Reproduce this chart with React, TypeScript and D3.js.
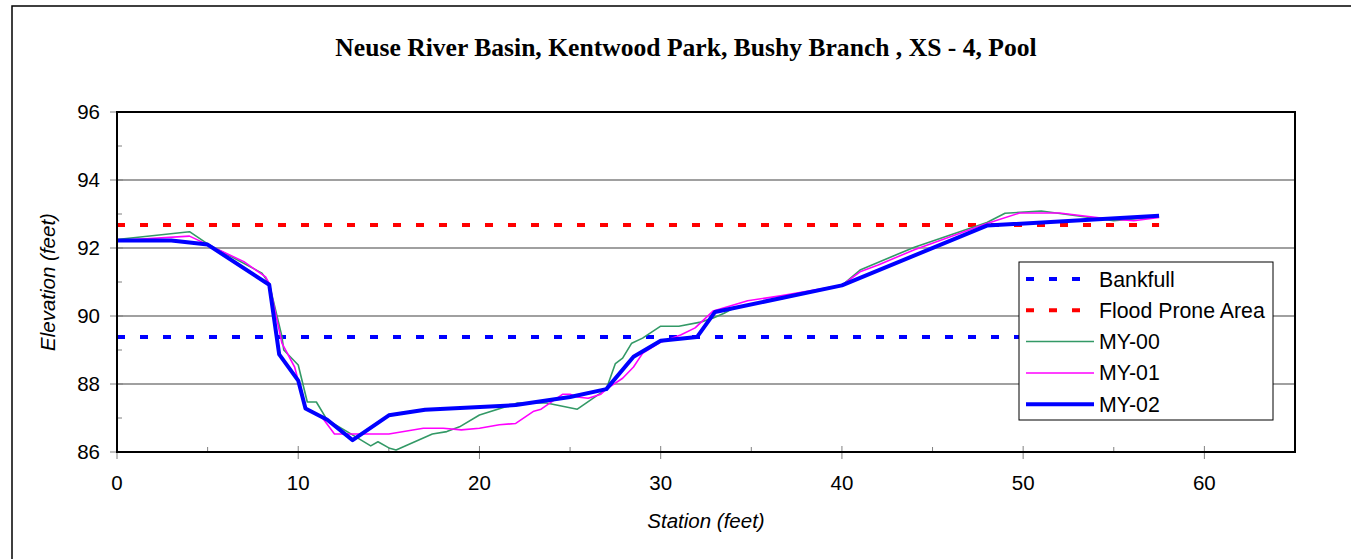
import React from "react";
import * as d3 from "d3";

const title = "Neuse River Basin, Kentwood Park, Bushy Branch , XS - 4, Pool";
const xTicks = [0, 10, 20, 30, 40, 50, 60];
const yTicks = [86, 88, 90, 92, 94, 96];

const bankfullElev = 89.38;
const floodProneElev = 92.68;
const refLineStations = [0, 57.5];

const my00Station = [0, 4, 5, 8, 8.4, 9.1, 9.2, 10, 10.5, 11, 11.6, 12.7, 14, 14.4, 15, 15.4, 17.4, 18.2, 18.9, 20, 22.1, 23.7, 25.4, 27, 27.5, 27.9, 28.4, 29, 30, 31, 32.2, 32.9, 33.5, 34, 40, 41, 43, 44, 48, 49, 51, 55, 57.5];
const my00Elev = [92.25, 92.48, 92.12, 91.26, 90.95, 89.4, 89.0, 88.56, 87.47, 87.47, 86.94, 86.6, 86.18, 86.3, 86.12, 86.06, 86.53, 86.6, 86.74, 87.09, 87.44, 87.44, 87.26, 87.85, 88.6, 88.76, 89.2, 89.35, 89.7, 89.7, 89.82, 89.94, 90.08, 90.23, 90.9, 91.35, 91.8, 92.02, 92.75, 93.02, 93.09, 92.8, 92.92];

const my01Station = [0, 4, 5, 7, 8.2, 8.4, 9.1, 9.8, 10.1, 10.4, 11.3, 12, 15, 16.9, 18, 19, 20, 21.1, 22, 23, 23.4, 24.6, 25, 25.4, 26, 26.7, 27, 27.9, 28.5, 29, 30, 31.1, 31.9, 32.9, 34.8, 36.7, 40, 41, 42, 44, 48, 49.8, 52, 54.3, 56.1, 57.5];
const my01Elev = [92.22, 92.35, 92.1, 91.6, 91.15, 90.95, 89.2, 88.5, 87.9, 87.3, 87.03, 86.53, 86.53, 86.7, 86.7, 86.65, 86.7, 86.8, 86.84, 87.2, 87.26, 87.7, 87.7, 87.62, 87.58, 87.7, 87.85, 88.17, 88.5, 88.9, 89.23, 89.44, 89.65, 90.15, 90.45, 90.6, 90.9, 91.3, 91.5, 91.95, 92.72, 93.03, 93.03, 92.88, 92.8, 92.9];

const my02Station = [0, 3, 5, 8.4, 8.95, 10, 10.4, 11.6, 13, 15, 17, 22, 25, 27, 28.5, 30, 32, 33, 40, 48, 57.5];
const my02Elev = [92.22, 92.22, 92.1, 90.92, 88.87, 88.1, 87.28, 86.95, 86.35, 87.08, 87.24, 87.38, 87.62, 87.85, 88.8, 89.27, 89.38, 90.12, 90.9, 92.66, 92.95];

const legendLabels = ["Bankfull", "Flood Prone Area", "MY-00", "MY-01", "MY-02"];

const W = 1351;
const H = 559;
const left = 117, right = 1295, top = 112, bottom = 452;

export default function App() {
  const x = d3.scaleLinear().domain([0, 65]).range([left, right]);
  const y = d3.scaleLinear().domain([86, 96]).range([bottom, top]);
  const line = d3
    .line<[number, number]>()
    .x((d) => x(d[0]))
    .y((d) => y(d[1]));
  const zip = (s: number[], e: number[]) => s.map((v, i) => [v, e[i]] as [number, number]);

  const font = "'Liberation Sans', Arial, sans-serif";
  const minorX = d3.range(5, 65, 10);
  const minorY = d3.range(87, 96, 2);

  const legendStyles = [
    { stroke: "#0000FF", width: 4, dash: "8 15" },
    { stroke: "#FF0000", width: 4, dash: "8 15" },
    { stroke: "#339966", width: 1.5, dash: undefined },
    { stroke: "#FF00FF", width: 1.5, dash: undefined },
    { stroke: "#0000FF", width: 4, dash: undefined },
  ];

  return (
    <svg width={W} height={H} style={{ position: "absolute", left: 0, top: 0, background: "#fff" }}>
      <rect x={12} y={6} width={W + 20} height={H + 20} fill="#fff" stroke="#000" strokeWidth={1.5} />
      <text x={686} y={56} textAnchor="middle" fontFamily="'Liberation Serif', 'Times New Roman', serif" fontWeight="bold" fontSize={25.6}>
        {title}
      </text>
      {/* gridlines */}
      {yTicks.slice(1, -1).map((t) => (
        <line key={"g" + t} x1={left} x2={right} y1={y(t)} y2={y(t)} stroke="#808080" strokeWidth={1.5} />
      ))}
      {/* minor ticks */}
      {minorY.map((t) => (
        <line key={"my" + t} x1={left} x2={left + 5} y1={y(t)} y2={y(t)} stroke="#808080" strokeWidth={1} />
      ))}
      {minorX.map((t) => (
        <line key={"mx" + t} x1={x(t)} x2={x(t)} y1={bottom} y2={bottom - 5} stroke="#808080" strokeWidth={1} />
      ))}
      {/* major ticks */}
      {yTicks.map((t) => (
        <line key={"ty" + t} x1={left - 7} x2={left + 6} y1={y(t)} y2={y(t)} stroke="#808080" strokeWidth={1} />
      ))}
      {xTicks.map((t) => (
        <line key={"tx" + t} x1={x(t)} x2={x(t)} y1={bottom - 6} y2={bottom + 7} stroke="#808080" strokeWidth={1} />
      ))}
      {/* reference lines */}
      <path d={line(zip(refLineStations, refLineStations.map(() => bankfullElev))) || ""} fill="none" stroke="#0000FF" strokeWidth={4} strokeDasharray="8 15" />
      <path d={line(zip(refLineStations, refLineStations.map(() => floodProneElev))) || ""} fill="none" stroke="#FF0000" strokeWidth={4} strokeDasharray="8 15" />
      {/* series */}
      <path d={line(zip(my00Station, my00Elev)) || ""} fill="none" stroke="#339966" strokeWidth={1.6} strokeLinejoin="round" />
      <path d={line(zip(my01Station, my01Elev)) || ""} fill="none" stroke="#FF00FF" strokeWidth={1.6} strokeLinejoin="round" />
      <path d={line(zip(my02Station, my02Elev)) || ""} fill="none" stroke="#0000FF" strokeWidth={4} strokeLinejoin="round" />
      {/* plot frame */}
      <rect x={left} y={top} width={right - left} height={bottom - top} fill="none" stroke="#000" strokeWidth={2} />
      {/* tick labels */}
      {yTicks.map((t) => (
        <text key={"ly" + t} x={100} y={y(t) + 7} textAnchor="end" fontFamily={font} fontSize={20.5}>
          {t}
        </text>
      ))}
      {xTicks.map((t) => (
        <text key={"lx" + t} x={x(t)} y={490} textAnchor="middle" fontFamily={font} fontSize={20.5}>
          {t}
        </text>
      ))}
      <text x={706} y={528} textAnchor="middle" fontFamily={font} fontSize={20.5} fontStyle="italic">
        Station (feet)
      </text>
      <text transform="translate(55,282) rotate(-90)" textAnchor="middle" fontFamily={font} fontSize={20.5} fontStyle="italic">
        Elevation (feet)
      </text>
      {/* legend */}
      <rect x={1019} y={262} width={254} height={158} fill="#fff" stroke="#000" strokeWidth={1} />
      {legendLabels.map((lab, i) => {
        const ly = 279 + i * 31.3;
        const s = legendStyles[i];
        return (
          <g key={lab}>
            <line x1={1026} x2={1094} y1={ly} y2={ly} stroke={s.stroke} strokeWidth={s.width} strokeDasharray={s.dash} />
            <text x={1099} y={ly + 7.5} fontFamily={font} fontSize={21.3}>
              {lab}
            </text>
          </g>
        );
      })}
    </svg>
  );
}
